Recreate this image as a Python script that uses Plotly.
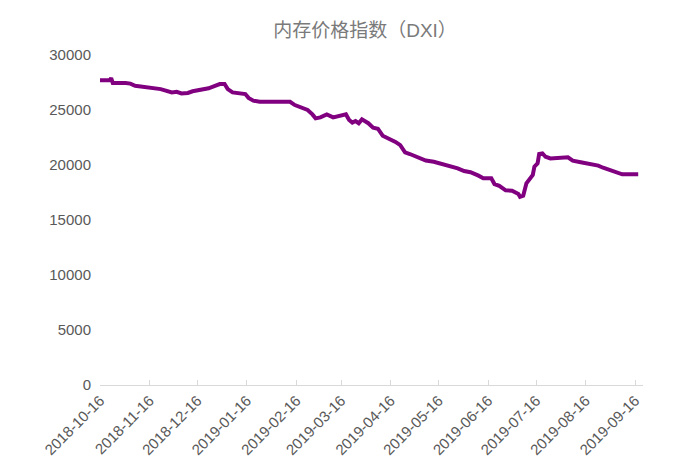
import plotly.graph_objects as go

dates = [
    "2018-10-16", "2018-10-22", "2018-10-23", "2018-10-24", "2018-11-01", "2018-11-04",
    "2018-11-07", "2018-11-13", "2018-11-23", "2018-11-30", "2018-12-03", "2018-12-06",
    "2018-12-10", "2018-12-13", "2018-12-19", "2018-12-23", "2018-12-27", "2018-12-30",
    "2019-01-02", "2019-01-04", "2019-01-07", "2019-01-12", "2019-01-15", "2019-01-17",
    "2019-01-20", "2019-01-24", "2019-02-12", "2019-02-15", "2019-02-20", "2019-02-23",
    "2019-02-26", "2019-02-28", "2019-03-03", "2019-03-07", "2019-03-11", "2019-03-14",
    "2019-03-19", "2019-03-21", "2019-03-23", "2019-03-25", "2019-03-27", "2019-03-29",
    "2019-04-02", "2019-04-05", "2019-04-08", "2019-04-11", "2019-04-15", "2019-04-19",
    "2019-04-22", "2019-04-25", "2019-04-28", "2019-05-03", "2019-05-08", "2019-05-13",
    "2019-05-19", "2019-05-24", "2019-05-28", "2019-06-01", "2019-06-05", "2019-06-10",
    "2019-06-13", "2019-06-18", "2019-06-20", "2019-06-23", "2019-06-27", "2019-07-01",
    "2019-07-05", "2019-07-06", "2019-07-08", "2019-07-10", "2019-07-12", "2019-07-14",
    "2019-07-15", "2019-07-17", "2019-07-18", "2019-07-20", "2019-07-22", "2019-07-25",
    "2019-08-05", "2019-08-08", "2019-08-13", "2019-08-18", "2019-08-24", "2019-08-27",
    "2019-08-31", "2019-09-04", "2019-09-08", "2019-09-18",
]

dxi = [
    27700, 27700, 27900, 27450, 27450, 27400,
    27200, 27060, 26900, 26600, 26650, 26500,
    26550, 26700, 26900, 26970, 27200, 27360,
    27360, 26900, 26600, 26450, 26450, 26100,
    25850, 25750, 25750, 25450, 25200, 25000,
    24600, 24240, 24330, 24600, 24330, 24400,
    24600, 24090, 23850, 24000, 23800, 24150,
    23800, 23400, 23300, 22660, 22400, 22100,
    21800, 21150, 21000, 20660, 20400, 20300,
    20060, 19900, 19700, 19450, 19340, 19030,
    18800, 18800, 18270, 18100, 17700, 17660,
    17360, 17100, 17200, 18330, 18700, 19100,
    19850, 20150, 21000, 21060, 20750, 20600,
    20700, 20400, 20250, 20100, 19940, 19750,
    19550, 19340, 19150, 19150,
]

tick_dates = [
    "2018-10-16", "2018-11-16", "2018-12-16", "2019-01-16", "2019-02-16", "2019-03-16",
    "2019-04-16", "2019-05-16", "2019-06-16", "2019-07-16", "2019-08-16", "2019-09-16",
]

title_text = "内存价格指数（DXI）"

W, H = 666, 468  # page body has an 8px margin in the 674x476 window

fig = go.Figure()
fig.add_trace(go.Scatter(
    x=dates, y=dxi, mode="lines",
    line=dict(color="#800080", width=4),
    showlegend=False, hoverinfo="x+y",
))

fig.update_layout(
    width=W, height=H,
    margin=dict(l=92, r=31, t=47, b=91, autoexpand=False),
    paper_bgcolor="white", plot_bgcolor="white",
    font=dict(family="Liberation Sans, Arial, sans-serif", color="#595959"),
    title=dict(text=title_text, x=357 / W, xanchor="center", y=1 - 22 / H, yanchor="middle",
               font=dict(size=19, color="#7A7A7A", family="Liberation Sans, Noto Sans CJK SC, sans-serif")),
)
fig.update_xaxes(
    type="date", range=["2018-10-16", "2019-09-21"],
    tickvals=tick_dates, ticktext=tick_dates, tickangle=-45,
    tickfont=dict(size=15, color="#595959"),
    showgrid=False, zeroline=False, automargin=False,
    showline=True, linecolor="#D9D9D9", linewidth=1,
    ticks="inside", ticklen=5, tickcolor="#D9D9D9",
)
fig.update_yaxes(
    range=[0, 30000], dtick=5000, tickformat="d", automargin=False,
    tickfont=dict(size=15, color="#595959"),
    showgrid=False, zeroline=False, showline=False,
    ticks="", ticklabelstandoff=8,
)

fig.write_html("out.html")
